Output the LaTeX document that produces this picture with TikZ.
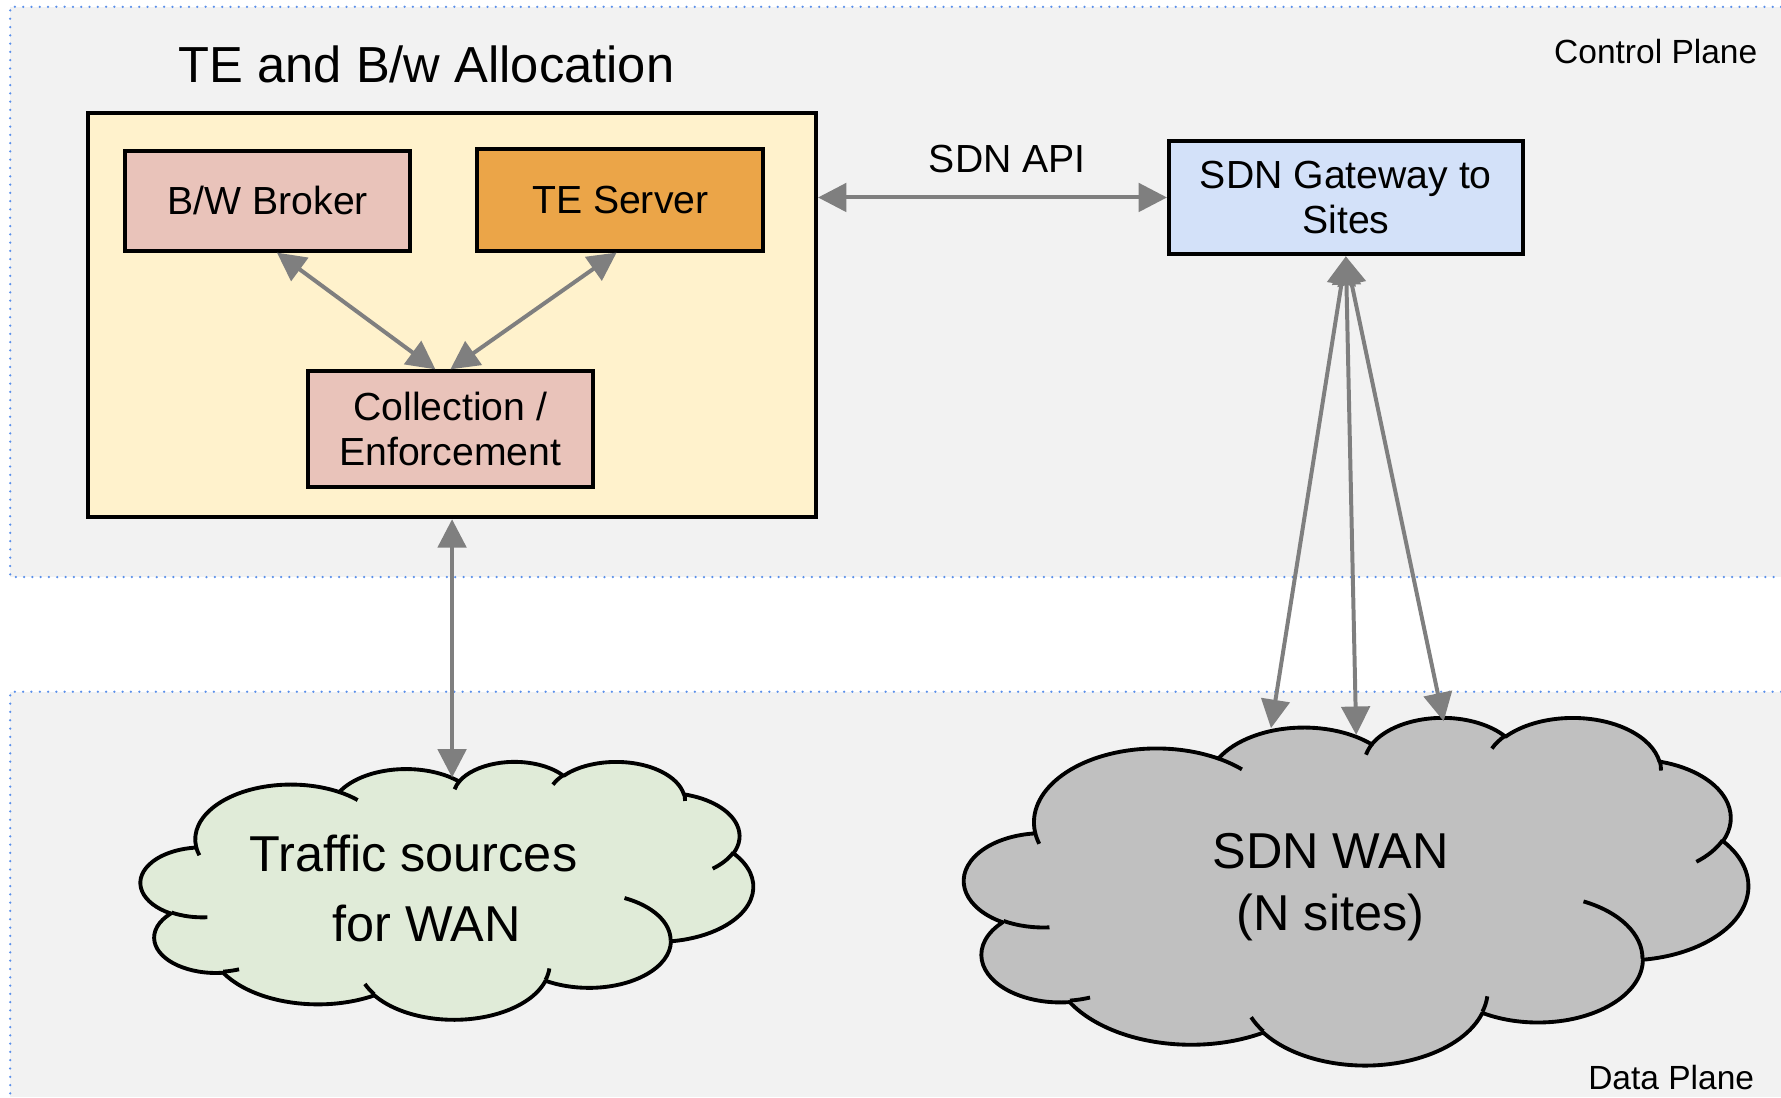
\documentclass[tikz,border=0pt]{standalone}
\usepackage{fontspec}
\setmainfont{Liberation Sans}
\usetikzlibrary{arrows.meta}
\definecolor{planebg}{HTML}{F2F2F2}
\definecolor{planeline}{HTML}{5A8FEA}
\definecolor{teyellow}{HTML}{FFF2CC}
\definecolor{brokerpink}{HTML}{E9C3BA}
\definecolor{teorange}{HTML}{EBA548}
\definecolor{gwblue}{HTML}{D3E1F9}
\definecolor{trafficgreen}{HTML}{E0EBD8}
\definecolor{wangray}{HTML}{C0C0C0}
\definecolor{arrowgray}{HTML}{7F7F7F}
\newcommand\ttlfnt{\fontsize{22.3pt}{27pt}\selectfont}
\newcommand\bxfnt{\fontsize{17.25pt}{19.6pt}\selectfont}
\newcommand\plnfnt{\fontsize{14.75pt}{17pt}\selectfont}
\newcommand\cldfntA{\fontsize{22.2pt}{30.75pt}\selectfont}
\newcommand\cldfntB{\fontsize{22.2pt}{26.9pt}\selectfont}
\tikzset{
  oarc/.style n args={4}{insert path={arc[x radius=#1, y radius=#2,
     start angle={atan2((#1)*sin(#3),(#2)*cos(#3))},
     delta angle={mod(atan2((#1)*sin((#3)+(#4)),(#2)*cos((#3)+(#4)))-atan2((#1)*sin(#3),(#2)*cos(#3))+720,360)}]}},
}
\newcommand\cloudmain{(19.5,71.85)
  [oarc={33.765}{45.95}{-190.48748}{123.78053}]
  [oarc={26.665}{36.335}{-144.10238}{89.94523}]
  [oarc={21.825}{29.725}{-145.80792}{99.72302}]
  [oarc={24.285}{32.975}{-130.98607}{117.24173}]
  [oarc={26.665}{36.365}{-78.70888}{109.02692}]
  [oarc={33.875}{46.1}{-46.26725}{130.269}]
  [oarc={28.925}{39.335}{0.62502}{114.03333}]
  [oarc={33.76}{46.075}{22.4516}{115.17255}]
  [oarc={38.6}{52.715}{66.24263}{75.71102}]
  [oarc={21.8}{29.59}{-274.94208}{146.73557}]
  [oarc={21.725}{29.725}{-246.8285}{152.51885}] -- cycle}
\newcommand\cloudinner{
  (23.465,130.885) [oarc={21.725}{29.725}{86.742}{26.4295}]
  (34.64,174.495) [oarc={21.8}{29.59}{73.6105}{11.4475}]
  (82.39,195.45) [oarc={33.76}{46.075}{137.6242}{14.0811}]
  (144.135,173.755) [oarc={33.76}{46.075}{6.4533}{15.9984}]
  (170.645,114.77) [oarc={28.925}{39.335}{-70.2924}{70.9174}]
  (208.99,76.77) [oarc={26.665}{36.365}{30.318}{27.7515}]
  (191.62,27.13) [oarc={24.285}{32.975}{-13.7443}{14.8589}]
  (145.39,19.76) [oarc={24.285}{32.975}{-149.1815}{18.1954}]
  (110.705,23.6) [oarc={21.825}{29.725}{-163.4943}{17.6864}]
  (70,25.96) [oarc={33.765}{45.95}{-66.707}{12.3194}]
  (20.635,78.945) [oarc={33.765}{45.95}{157.65}{11.86}]}
\begin{document}
\begin{tikzpicture}[x=0.5pt,y=-0.5pt,
  box/.style={draw=black, line width=1.7pt, inner sep=0pt, align=center, font=\bxfnt},
  arr/.style={draw=arrowgray, line width=1.75pt, {Triangle[length=12.5pt,width=12.5pt]}-{Triangle[length=12.5pt,width=12.5pt]}},
  plane/.style={draw=planeline, line width=1.1pt, dash pattern=on 0pt off 3.65pt, line cap=round},
  cloudline/.style={draw=black, line width=1.7pt, line join=round},
]
\useasboundingbox (0,0) rectangle (1568,966);
% planes
\fill[planebg] (9,6) rectangle (1568,508);
\draw[plane] (1568,6) -- (9,6) -- (9,508) -- (1568,508);
\fill[planebg] (9,609) rectangle (1568,966);
\draw[plane] (1568,609) -- (9,609) -- (9,966);
\node[anchor=base, font=\plnfnt] (cp) at (1457.7,55.6) {Control Plane};
\node[anchor=base, font=\plnfnt] (dp) at (1471.3,959) {Data Plane};
% control plane boxes
\node[anchor=base, font=\ttlfnt] (title) at (375.5,72.4) {TE and B/w Allocation};
\node[box, fill=teyellow, minimum width=320.5pt, minimum height=178pt] (yb) at (398,277.45) {};
\node[box, fill=brokerpink, minimum width=125.4pt, minimum height=43.8pt] (br) at (235.8,176.9) {B/W Broker};
\node[box, fill=teorange, minimum width=125.9pt, minimum height=44.6pt] (te) at (546.1,176.05) {TE Server};
\node[box, fill=brokerpink, minimum width=125.4pt, minimum height=51pt] (col) at (396.5,377.85) {Collection /\\Enforcement};
\node[box, fill=gwblue, minimum width=155.8pt, minimum height=50.1pt] (gw) at (1184.9,173.85) {SDN Gateway to\\Sites};
\node[anchor=base, font=\bxfnt] (api) at (886.9,151.6) {SDN API};
% clouds
\begin{scope}[shift={(124,670)}, x=1.24769pt, y=-0.525463pt]
  \filldraw[cloudline, fill=trafficgreen] \cloudmain;
  \draw[cloudline] \cloudinner;
\end{scope}
\begin{scope}[shift={(849,631)}, x=1.59722pt, y=-0.708333pt]
  \filldraw[cloudline, fill=wangray] \cloudmain;
  \draw[cloudline] \cloudinner;
\end{scope}
\node[font=\cldfntA, align=center] (tc) at (363.9,782) {Traffic sources\\\hspace*{11.6pt}for WAN};
\node[font=\cldfntB, align=center] (wan) at (1171.4,781) {SDN WAN\\(N sites)};
\coordinate (tcTop) at (398,684.5);
\coordinate (w1) at (1119,641);
\coordinate (w2) at (1194,647);
\coordinate (w3) at (1271,635);
% connectors
\draw[arr] (yb.east |- gw.west) -- (gw.west);
\draw[arr] (br.-80) -- (col.104);
\draw[arr] (col.north) -- (te.-94);
\draw[arr] (yb.south) -- (tcTop);
\draw[arr] (gw.south) -- (w1);
\draw[arr] (gw.south) -- (w2);
\draw[arr] (gw.south) -- (w3);
\end{tikzpicture}
\end{document}
